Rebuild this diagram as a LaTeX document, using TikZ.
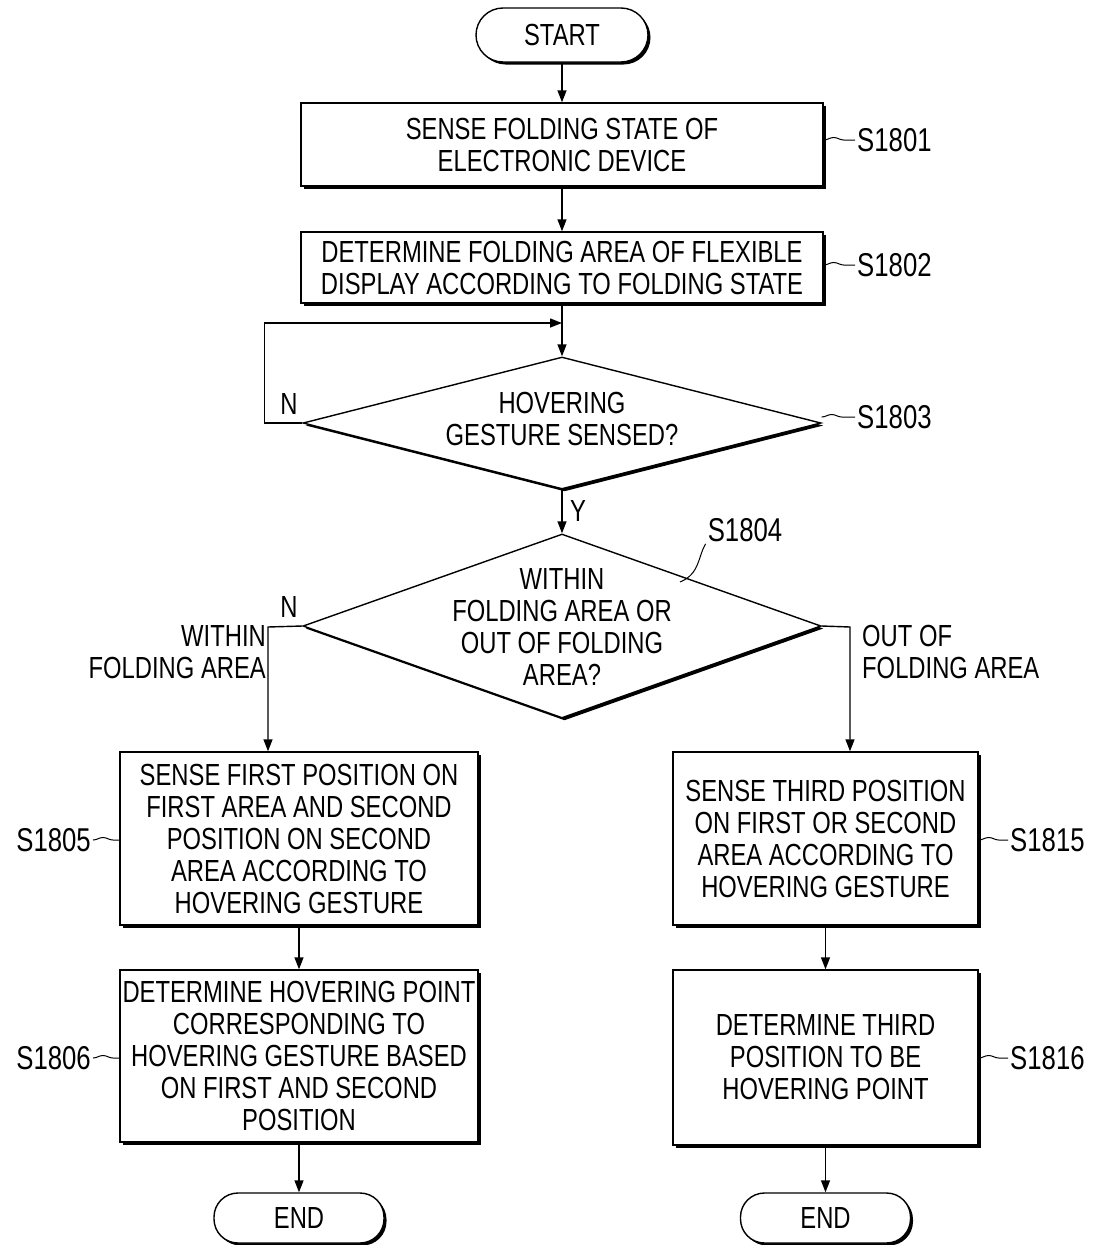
\documentclass[tikz,border=0pt]{standalone}
\usepackage{fontspec}
\setmainfont{Liberation Sans}[FakeStretch=0.78]
\usetikzlibrary{arrows.meta,shapes.geometric,shadows,decorations.pathmorphing}
\begin{document}
\begin{tikzpicture}[x=1pt,y=-1pt,
  font=\fontsize{30.5}{32}\selectfont,
  every node/.style={inner sep=0pt},
  shad/.style={drop shadow={shadow xshift=2.5pt,shadow yshift=-2.5pt,fill=black,opacity=1}},
  box/.style={draw,line width=1.4pt,fill=white,shad,align=center,rectangle},
  term/.style={draw,line width=1.4pt,fill=white,shad,rectangle,rounded corners=24pt,minimum width=170pt,minimum height=50pt},
  dia/.style={draw,line width=1.4pt,fill=white,shad,diamond},
  arr/.style={line width=1.4pt,-{Triangle[length=12pt,width=9pt]}},
  lead/.style={line width=1pt,decorate,decoration={snake,amplitude=2.5pt,segment length=32pt}},
  lab/.style={inner sep=2pt,font=\fontsize{33}{34}\selectfont}]
\useasboundingbox (0,0) rectangle (1094,1245);
% nodes
\node[term,minimum width=172pt,minimum height=54pt,rounded corners=27pt] (start) at (562,35) {START};
\node[box,minimum width=522pt,minimum height=83pt] (s1801) at (562,144.5) {SENSE FOLDING STATE OF\\ELECTRONIC DEVICE};
\node[box,minimum width=522pt,minimum height=71pt] (s1802) at (562,267.5) {DETERMINE FOLDING AREA OF FLEXIBLE\\DISPLAY ACCORDING TO FOLDING STATE};
\node[dia,minimum width=518pt,minimum height=132pt] (d1803) at (562,423) {};
\node[align=center] (t1803) at (562,419) {HOVERING\\GESTURE SENSED?};
\node[dia,minimum width=518pt,minimum height=184pt] (d1804) at (562,626) {};
\node[align=center] (t1804) at (562,626.5) {WITHIN\\FOLDING AREA OR\\OUT OF FOLDING\\AREA?};
\node[box,minimum width=358pt,minimum height=173pt] (s1805) at (299,838.5) {SENSE FIRST POSITION ON\\FIRST AREA AND SECOND\\POSITION ON SECOND\\AREA ACCORDING TO\\HOVERING GESTURE};
\node[box,minimum width=358pt,minimum height=172pt] (s1806) at (299,1056) {DETERMINE HOVERING POINT\\CORRESPONDING TO\\HOVERING GESTURE BASED\\ON FIRST AND SECOND\\POSITION};
\node[box,minimum width=305pt,minimum height=173pt] (s1815) at (825.5,838.5) {SENSE THIRD POSITION\\ON FIRST OR SECOND\\AREA ACCORDING TO\\HOVERING GESTURE};
\node[box,minimum width=305pt,minimum height=175pt] (s1816) at (825.5,1057.5) {DETERMINE THIRD\\POSITION TO BE\\HOVERING POINT};
\node[term] (end1) at (299,1218) {END};
\node[term] (end2) at (825.5,1218) {END};
% step labels
\node[lab,anchor=west] (l1801) at (855,140) {S1801};
\node[lab,anchor=west] (l1802) at (855,265) {S1802};
\node[lab,anchor=west] (l1803) at (855,417) {S1803};
\node[lab] (l1804) at (745,530) {S1804};
\node[lab,anchor=east] (l1805) at (93,840) {S1805};
\node[lab,anchor=east] (l1806) at (93,1058) {S1806};
\node[lab,anchor=west] (l1815) at (1008,840) {S1815};
\node[lab,anchor=west] (l1816) at (1008,1058) {S1816};
\draw[lead] (s1801.east |- l1801.west) -- (l1801.west);
\draw[lead] (s1802.east |- l1802.west) -- (l1802.west);
\draw[lead] (d1803.east |- l1803.west) -- (l1803.west);
\draw[lead] (l1805.east) -- (l1805.east -| s1805.west);
\draw[lead] (l1806.east) -- (l1806.east -| s1806.west);
\draw[lead] (s1815.east |- l1815.west) -- (l1815.west);
\draw[lead] (s1816.east |- l1816.west) -- (l1816.west);
\coordinate (c1804) at (680,582);
\draw[line width=1pt] (c1804) .. controls (700,574) and (698,556) .. (l1804.south west);
% branch labels
\node (n1) at (289,404) {N};
\node (y1) at (578,511) {Y};
\node (n2) at (289,607) {N};
\node[align=right,anchor=east] (wfa) at (266,652) {WITHIN\\FOLDING AREA};
\node[align=left,anchor=west] (ofa) at (862,652) {OUT OF\\FOLDING AREA};
% connectors
\coordinate (j1) at (562,323);
\coordinate (lb) at (268,627);
\coordinate (rb) at (850,627);
\draw[arr] (start) -- (s1801);
\draw[arr] (s1801) -- (s1802);
\draw[arr] (s1802) -- (d1803);
\draw[arr] (d1803.west) -- ++(-38,0) |- (j1);
\draw[arr] (d1803) -- (d1804);
\draw[arr] (d1804.west) -- (lb) -- (lb |- s1805.north);
\draw[arr] (d1804.east) -- (rb) -- (rb |- s1815.north);
\draw[arr] (s1805) -- (s1806);
\draw[arr] (s1806) -- (end1);
\draw[arr] (s1815) -- (s1816);
\draw[arr] (s1816) -- (end2);
\end{tikzpicture}
\end{document}
